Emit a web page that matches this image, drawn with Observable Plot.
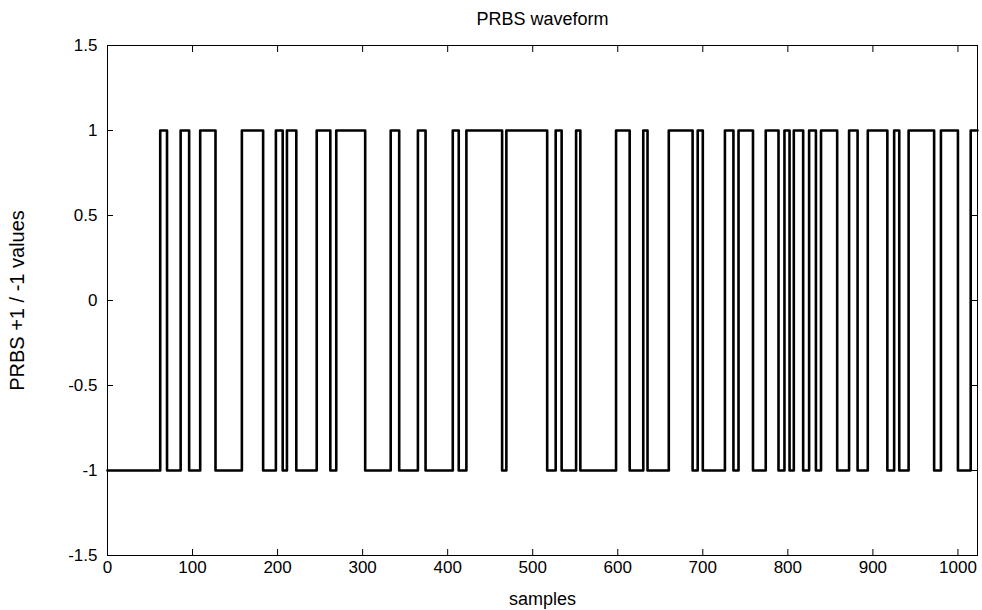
<!DOCTYPE html>
<html><head><meta charset="utf-8">
<script src="https://cdn.jsdelivr.net/npm/d3@7"></script>
<script src="https://cdn.jsdelivr.net/npm/@observablehq/plot@0.6"></script>
<style>
body{margin:0;background:#fff}
svg{font-family:"Liberation Sans",Arial,sans-serif}
</style>
</head><body><div id="chart"></div>
<script>
const chartTitle = "PRBS waveform";
const xLabel = "samples";
const yLabel = "PRBS +1 / -1 values";
// samples at which the waveform changes level, and the level it takes from there on
const switchSamples = [0, 62, 70, 86, 96, 109, 127, 158, 183, 198, 206, 211, 222, 246, 262, 269, 303, 333, 343, 365, 374, 406, 413, 422, 464, 469, 517, 527, 534, 551, 556, 598, 614, 630, 635, 660, 688, 694, 700, 726, 736, 742, 759, 774, 789, 796, 802, 807, 818, 825, 833, 839, 858, 872, 882, 894, 917, 925, 931, 942, 972, 980, 1000, 1015];
const switchLevels = [-1, 1, -1, 1, -1, 1, -1, 1, -1, 1, -1, 1, -1, 1, -1, 1, -1, 1, -1, 1, -1, 1, -1, 1, -1, 1, -1, 1, -1, 1, -1, 1, -1, 1, -1, 1, -1, 1, -1, 1, -1, 1, -1, 1, -1, 1, -1, 1, -1, 1, -1, 1, -1, 1, -1, 1, -1, 1, -1, 1, -1, 1, -1, 1];
const lastSample = 1023;
const xTicks = [0, 100, 200, 300, 400, 500, 600, 700, 800, 900, 1000];
const yTicks = [-1.5, -1, -0.5, 0, 0.5, 1, 1.5];

const data = switchSamples.map((s, i) => ({sample: s, level: switchLevels[i]}));
data.push({sample: lastSample, level: switchLevels[switchLevels.length - 1]});

const fmt = d => String(d);
const chart = Plot.plot({
  width: 982, height: 610,
  marginLeft: 107, marginRight: 5, marginTop: 45, marginBottom: 55,
  style: {fontFamily: '"Liberation Sans", Arial, sans-serif', fontSize: "17px", color: "black", background: "white"},
  x: {domain: [0, 1023]},
  y: {domain: [-1.5, 1.5]},
  marks: [
    Plot.frame({stroke: "black", strokeWidth: 1}),
    Plot.axisX({anchor: "bottom", ticks: xTicks, tickSize: -6, tickPadding: 11, tickFormat: fmt, fontSize: 17, label: null}),
    Plot.axisX({anchor: "top", ticks: xTicks, tickSize: -6, tickFormat: () => "", label: null}),
    Plot.axisY({anchor: "left", ticks: yTicks, tickSize: -6, tickPadding: 16, tickFormat: fmt, fontSize: 17, label: null}),
    Plot.axisY({anchor: "right", ticks: yTicks, tickSize: -6, tickFormat: () => "", label: null}),
    Plot.line(data, {x: "sample", y: "level", curve: "step-after", stroke: "black", strokeWidth: 2.6}),
    Plot.text([chartTitle], {frameAnchor: "top", dy: -33, fontSize: 18, fill: "black"}),
    Plot.text([xLabel], {frameAnchor: "bottom", dy: 49, fontSize: 18, fill: "black"}),
    Plot.text([yLabel], {frameAnchor: "left", dx: -90, rotate: -90, textAnchor: "middle", lineAnchor: "middle", fontSize: 20, fill: "black"})
  ]
});
document.getElementById("chart").appendChild(chart);
</script>
</body></html>
